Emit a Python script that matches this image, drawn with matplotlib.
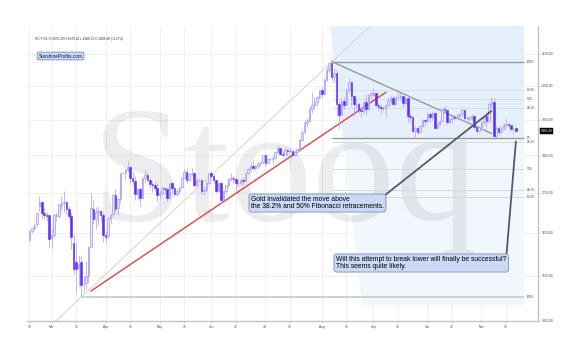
import matplotlib
matplotlib.use("Agg")
import matplotlib.pyplot as plt
from matplotlib.patches import Polygon
from matplotlib.ticker import FixedLocator, NullLocator
import numpy as np
import pandas as pd

plt.rcParams["font.family"] = ["Liberation Sans", "DejaVu Sans"]

# daily gold futures candles, Feb 18 - Nov 20 2020
dates = pd.bdate_range("2020-02-18", "2020-11-20")

opens = [
    1584, 1604, 1612, 1621, 1666, 1676, 1650, 1643, 1643,
    1587, 1596, 1641, 1642, 1670, 1675, 1677, 1660, 1642, 1577, 1530, 1518, 1530, 1483, 1484, 1499, 1567, 1658, 1634, 1651, 1654, 1643,
    1596, 1593, 1637, 1646, 1694, 1662, 1685, 1752, 1752, 1761, 1769, 1738, 1731, 1698, 1711, 1688, 1738, 1746, 1735, 1723, 1722, 1713,
    1694, 1700, 1713, 1711, 1688, 1725, 1713, 1698, 1706, 1716, 1740, 1756, 1734, 1750, 1752, 1721, 1735, 1735, 1704, 1709, 1727,
    1751, 1745, 1734, 1704, 1727, 1683, 1704, 1720, 1737, 1739, 1737, 1725, 1727, 1735, 1731, 1753, 1762, 1771, 1767, 1771, 1780, 1781,
    1800, 1780, 1789, 1790, 1793, 1809, 1820, 1803, 1801, 1814, 1813, 1812, 1800, 1810, 1818, 1842, 1865, 1890, 1897, 1931, 1944, 1953, 1966,
    1986, 1976, 2019, 2049, 2069, 2028, 2039, 1946, 1914, 1954, 1944, 1986, 2013, 1970, 1946, 1947, 1928, 1926, 1953, 1930, 1973,
    1973, 1978, 1944, 1938, 1934, 1933, 1943, 1954, 1964, 1947, 1965, 1966, 1970, 1950, 1962, 1910, 1907, 1868, 1876, 1866, 1882, 1898,
    1895, 1916, 1907, 1920, 1877, 1887, 1897, 1930, 1929, 1893, 1901, 1908, 1906, 1911, 1915, 1929, 1904, 1902, 1905, 1911, 1879, 1868,
    1879, 1892, 1910, 1896, 1946, 1951, 1854, 1877, 1866, 1873, 1886, 1887, 1885, 1872, 1875,
]
highs = [
    1606, 1614, 1624, 1650, 1691, 1679, 1661, 1652, 1645,
    1611, 1649, 1652, 1673, 1692, 1704, 1679, 1668, 1652, 1597, 1575, 1548, 1546, 1500, 1533, 1569, 1699, 1681, 1665, 1667, 1660, 1651,
    1605, 1640, 1650, 1697, 1711, 1686, 1755, 1755, 1767, 1788, 1772, 1754, 1745, 1712, 1716, 1742, 1760, 1754, 1742, 1733, 1730, 1727,
    1706, 1719, 1716, 1713, 1727, 1730, 1716, 1713, 1718, 1743, 1762, 1765, 1752, 1765, 1754, 1738, 1737, 1736, 1717, 1732, 1752,
    1757, 1750, 1735, 1729, 1730, 1706, 1722, 1739, 1752, 1745, 1738, 1733, 1736, 1741, 1756, 1765, 1779, 1788, 1773, 1781, 1785, 1801,
    1802, 1792, 1793, 1800, 1812, 1829, 1821, 1812, 1822, 1817, 1820, 1813, 1814, 1820, 1846, 1871, 1898, 1904, 1941, 1981, 1965, 1970, 1986,
    1995, 2024, 2057, 2070, 2075, 2054, 2049, 1956, 1963, 1965, 1992, 2024, 2015, 1969, 1963, 1952, 1936, 1958, 1976, 1976, 1982,
    1992, 1980, 1947, 1946, 1938, 1947, 1966, 1973, 1968, 1969, 1980, 1982, 1970, 1967, 1963, 1919, 1911, 1882, 1880, 1886, 1902, 1903,
    1921, 1921, 1924, 1926, 1895, 1898, 1934, 1939, 1930, 1901, 1912, 1913, 1918, 1919, 1933, 1930, 1912, 1912, 1915, 1913, 1883, 1881,
    1897, 1914, 1922, 1951, 1965, 1965, 1883, 1881, 1881, 1890, 1906, 1893, 1886, 1877, 1879,
]
lows = [
    1581, 1601, 1608, 1617, 1655, 1635, 1634, 1630, 1563,
    1563, 1591, 1630, 1637, 1656, 1651, 1647, 1634, 1562, 1504, 1460, 1476, 1451, 1462, 1469, 1482, 1564, 1621, 1609, 1620, 1626, 1578,
    1576, 1588, 1622, 1638, 1651, 1643, 1674, 1749, 1734, 1756, 1726, 1722, 1682, 1682, 1666, 1686, 1727, 1730, 1713, 1703, 1706, 1680,
    1685, 1694, 1700, 1680, 1684, 1700, 1692, 1693, 1700, 1712, 1738, 1726, 1730, 1744, 1715, 1717, 1729, 1698, 1694, 1705, 1722,
    1738, 1725, 1699, 1702, 1672, 1682, 1699, 1715, 1732, 1725, 1707, 1717, 1721, 1722, 1728, 1749, 1758, 1760, 1759, 1765, 1772, 1777,
    1771, 1777, 1786, 1777, 1790, 1806, 1800, 1796, 1800, 1801, 1806, 1795, 1799, 1806, 1814, 1840, 1862, 1878, 1894, 1918, 1932, 1941, 1960,
    1964, 1972, 2015, 2039, 2015, 2010, 1911, 1874, 1914, 1930, 1942, 1982, 1941, 1910, 1931, 1918, 1907, 1916, 1913, 1927, 1963,
    1968, 1938, 1925, 1915, 1926, 1907, 1938, 1947, 1941, 1944, 1960, 1958, 1937, 1946, 1893, 1892, 1864, 1848, 1860, 1863, 1878, 1881,
    1891, 1892, 1900, 1874, 1875, 1885, 1894, 1922, 1888, 1889, 1890, 1900, 1900, 1901, 1909, 1896, 1898, 1895, 1898, 1872, 1860, 1864,
    1876, 1886, 1874, 1894, 1935, 1850, 1851, 1855, 1861, 1870, 1872, 1876, 1870, 1858, 1866,
]
closes = [
    1604, 1612, 1620, 1648, 1676, 1650, 1643, 1642, 1585,
    1594, 1644, 1644, 1672, 1674, 1676, 1660, 1642, 1590, 1516, 1516, 1526, 1478, 1484, 1499, 1567, 1661, 1634, 1651, 1654, 1643, 1596,
    1591, 1637, 1645, 1694, 1660, 1685, 1752, 1752, 1761, 1769, 1738, 1731, 1698, 1711, 1686, 1738, 1746, 1735, 1723, 1722, 1713, 1694,
    1700, 1713, 1711, 1688, 1725, 1713, 1698, 1706, 1716, 1740, 1756, 1734, 1750, 1752, 1721, 1735, 1735, 1704, 1709, 1727, 1751,
    1745, 1734, 1704, 1727, 1683, 1704, 1720, 1737, 1739, 1737, 1725, 1727, 1735, 1731, 1753, 1762, 1771, 1767, 1771, 1780, 1781, 1800,
    1780, 1789, 1790, 1793, 1809, 1820, 1803, 1801, 1814, 1813, 1812, 1800, 1810, 1818, 1842, 1865, 1890, 1897, 1931, 1944, 1953, 1966, 1986,
    1976, 2019, 2049, 2069, 2028, 2039, 1946, 1914, 1954, 1944, 1986, 2013, 1970, 1946, 1947, 1928, 1926, 1953, 1930, 1973, 1978,
    1978, 1944, 1938, 1934, 1933, 1943, 1954, 1964, 1947, 1965, 1966, 1970, 1950, 1962, 1910, 1907, 1868, 1876, 1866, 1882, 1898, 1895,
    1916, 1907, 1920, 1877, 1887, 1897, 1930, 1929, 1893, 1901, 1908, 1906, 1911, 1915, 1929, 1904, 1905, 1905, 1911, 1879, 1868, 1879,
    1892, 1910, 1896, 1946, 1951, 1854, 1877, 1866, 1873, 1886, 1887, 1885, 1873, 1873, 1868,
]
assert len(opens) == len(highs) == len(lows) == len(closes) == len(dates)

price_ticks = [1400, 1500, 1600, 1700, 1800, 1900, 2000, 2100]
tick_days = ["2020-02-15", "2020-03-01", "2020-03-15", "2020-04-01", "2020-04-15",
             "2020-05-01", "2020-05-15", "2020-06-01", "2020-06-15", "2020-07-01",
             "2020-07-15", "2020-08-01", "2020-08-15", "2020-09-01", "2020-09-15",
             "2020-10-01", "2020-10-15", "2020-11-01", "2020-11-15"]
tick_labels = ["15", "Mar", "15", "Apr", "15", "May", "15", "Jun", "15", "Jul",
               "15", "Aug", "15", "Sep", "15", "Oct", "15", "Nov", "15"]

# Fibonacci levels (short: Aug top -> Sep low, long: Mar low -> Aug top)
fib_short = [2075, 1988, 1961.5, 1934.7, 1848]
fib_short_labels = ["100%", "61.8%", "50%", "38.2%", "0%"]
fib_long = [1838, 1764, 1709, 1690, 1452]
fib_long_labels = ["38.2%", "50%", "38.2%", "61.8%", "100%"]

low_day, peak_day, end_day = 21, 123, 201.5
last_price = 1868.40

# drawn lines, as (day, price) anchors
support_line = [(25, 1465), (145, 1980)]
up_ray = [(21, 1451), (128, 2110)]
down_line = [(123, 2075), (188, 1861)]
zone_upper = [(122.2, 2190), (end_day, 2190), (end_day, 1848), (127.5, 1848)]
zone_lower = [(127.5, 1848), (end_day, 1848), (end_day, 1434), (135.5, 1434)]

note1 = "Gold invalidated the move above\nthe 38.2% and 50% Fibonacci retracements."
note2 = "Will this attempt to break lower will finally be successful?\nThis seems quite likely."

W, H = 578, 341
fig = plt.figure(figsize=(W / 100, H / 100), dpi=100)
fig.patch.set_facecolor("white")
ax = fig.add_axes([27 / W, 20 / H, 511 / W, 295 / H])
ax.set_facecolor("none")
ax.set_yscale("log")
ax.set_ylim(1400, 2190)
ax.set_xlim(-1, 207)

x = np.arange(len(dates))
o, h, l, c = map(np.array, (opens, highs, lows, closes))
up = c >= o

# shaded fib zone
ax.add_patch(Polygon(zone_upper, closed=True, fc="#e6f0fc", ec="none", zorder=1))
ax.add_patch(Polygon(zone_lower, closed=True, fc="#f2f7fe", ec="none", zorder=1))

# watermark
ax.text(92 / W, (H - 220) / H, "Stooq", transform=fig.transFigure, fontsize=119,
        family="Liberation Serif", color="black", alpha=0.07, zorder=1.5, clip_on=False)

# grid
for p in price_ticks:
    ax.axhline(p, color="#eeeeee", lw=0.6, zorder=0.8)
tick_pos = [dates.searchsorted(pd.Timestamp(d)) for d in tick_days]
for t in tick_pos:
    ax.axvline(t, color="#eeeeee", lw=0.6, zorder=0.8)

# fib lines
for i, (p, lab) in enumerate(zip(fib_short, fib_short_labels)):
    col = "#9a9a9a" if i in (0, 4) else "#d5dce8"
    ax.hlines(p, peak_day, end_day, color=col, lw=1 if i in (0, 4) else 0.6, zorder=2)
    ax.text(end_day + 0.8, p, lab, fontsize=2.2, va="center", ha="left", color="#444444", zorder=6)
for i, (p, lab) in enumerate(zip(fib_long, fib_long_labels)):
    if lab == "100%":
        ax.hlines(p, low_day, end_day, color="#cfcfcf", lw=1.4, zorder=2)
    else:
        ax.hlines(p, peak_day, end_day, color="#d8d8d8", lw=0.7, zorder=2)
    ax.text(end_day + 0.8, p, lab, fontsize=2.2, va="center", ha="left", color="#444444", zorder=6)

# trend lines
ax.axline(up_ray[0], up_ray[1], color="#d4d4d4", lw=0.7, zorder=2)
ax.plot(*zip(*support_line), color="#e8403f", lw=1.0, zorder=2.5)
ax.plot(*zip(*down_line), color="#9a9a9a", lw=1.0, zorder=2.5)

# candles
ax.vlines(x, l, h, color="#b5acff", lw=0.6, zorder=3)
ax.bar(x[up], (c - o)[up], bottom=o[up], width=0.62, color="#ebe8ff",
       edgecolor="#a397ff", lw=0.5, zorder=4)
ax.bar(x[~up], (o - c)[~up], bottom=c[~up], width=0.62, color="#5b2eff",
       edgecolor="#5b2eff", lw=0.4, zorder=4)

# callouts
box = dict(boxstyle="round,pad=0.3,rounding_size=0.4", fc="#c9d9f6", ec="#7f90b8", lw=0.6)
ax.annotate(note1, xy=(188, 1925), xycoords="data", xytext=(251, H - 203),
            textcoords="figure pixels", fontsize=4.9, ha="left", va="center",
            linespacing=1.0, bbox=box, zorder=7,
            arrowprops=dict(arrowstyle="-", color="#55596a", lw=1.3, relpos=(1, 1),
                            shrinkA=0, shrinkB=0))
ax.annotate(note2, xy=(198, 1838), xycoords="data", xytext=(336, H - 263),
            textcoords="figure pixels", fontsize=4.9, ha="left", va="center",
            linespacing=1.0, bbox=box, zorder=7,
            arrowprops=dict(arrowstyle="-", color="#55596a", lw=1.3, relpos=(1, 1),
                            shrinkA=0, shrinkB=0))

# axes styling
for s in ("left", "top"):
    ax.spines[s].set_visible(False)
for s in ("right", "bottom"):
    ax.spines[s].set_color("#c4c4c4")
    ax.spines[s].set_linewidth(1.0)
ax.yaxis.tick_right()
ax.yaxis.set_major_locator(FixedLocator(price_ticks))
ax.yaxis.set_minor_locator(NullLocator())
ax.set_yticklabels([f"{p:.2f}" for p in price_ticks])
ax.set_xticks(tick_pos)
ax.set_xticklabels(tick_labels)
ax.tick_params(axis="both", labelsize=2.3, colors="#c4c4c4", labelcolor="#444444",
               length=1.5, width=0.5, pad=1.5)

ax.text(1.006, last_price, f"{last_price:.2f}", transform=ax.get_yaxis_transform(),
        fontsize=2.3, color="white", va="center", ha="left", zorder=8, clip_on=False,
        bbox=dict(boxstyle="square,pad=0.25", fc="black", ec="black", lw=0.3))

fig.text(35 / W, 1 - 39 / H, "GC.F D1 O:1875.20 H:1879.20 L:1866.00 C:1868.40 (-0.27%)",
         fontsize=2.3, color="#333333", va="center", ha="left")
fig.text(38.5 / W, 1 - 56 / H, "SunshineProfits.com", fontsize=3.4, color="#1a1a40",
         va="center", ha="left",
         bbox=dict(boxstyle="round,pad=0.3,rounding_size=0.3", fc="#c8d7f2", ec="#6a7fb5", lw=0.5))

fig.savefig("out.png", dpi=100)
